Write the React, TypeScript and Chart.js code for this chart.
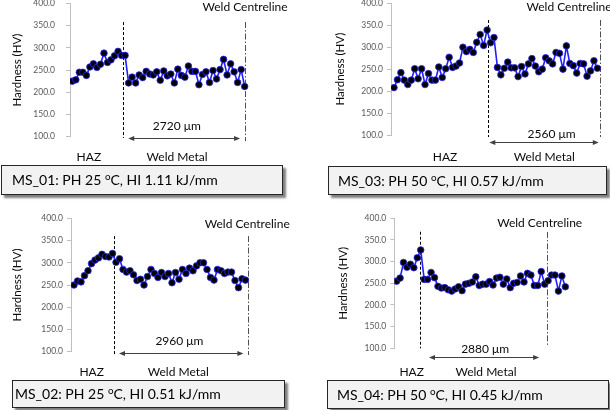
import React, { useEffect, useRef } from "react";
import { Chart, registerables } from "chart.js";
Chart.register(...registerables);

// ---------- data ----------
const Y_TICKS = [100, 150, 200, 250, 300, 350, 400];

const MS_01 = [225, 228, 245, 245, 238, 257, 264, 256, 263, 288, 267, 273, 282, 292, 283, 283, 221, 234, 221, 239, 233, 247, 241, 239, 246, 227, 248, 237, 241, 221, 252, 238, 234, 259, 247, 247, 217, 240, 246, 222, 249, 230, 251, 274, 239, 264, 246, 222, 251, 213];
const MS_03 = [208, 226, 242, 225, 215, 225, 251, 228, 251, 215, 240, 225, 225, 255, 231, 251, 277, 254, 257, 264, 300, 290, 295, 288, 311, 329, 304, 339, 310, 322, 254, 237, 252, 266, 253, 253, 233, 256, 239, 262, 274, 257, 244, 250, 276, 269, 262, 288, 286, 250, 303, 263, 258, 241, 263, 262, 234, 246, 269, 252];
const MS_02 = [250, 259, 257, 271, 282, 298, 306, 311, 319, 314, 313, 321, 301, 309, 285, 279, 282, 273, 260, 263, 250, 269, 285, 276, 267, 278, 269, 276, 255, 278, 263, 285, 276, 288, 282, 293, 300, 300, 285, 267, 261, 285, 282, 276, 279, 279, 260, 244, 264, 261];
const MS_04 = [255, 262, 298, 287, 294, 286, 309, 327, 259, 259, 275, 263, 243, 239, 240, 235, 232, 237, 242, 233, 248, 250, 253, 265, 245, 248, 248, 254, 246, 262, 264, 248, 260, 240, 250, 252, 267, 253, 273, 269, 245, 245, 277, 248, 256, 269, 269, 232, 267, 242];

const SERIES = [MS_01, MS_03, MS_02, MS_04];
const SAMPLE_IDS = ["MS_01", "MS_03", "MS_02", "MS_04"];
const PREHEAT_C = ["25", "50", "25", "50"];
const HEAT_INPUT = ["1.11", "0.57", "0.51", "0.45"];
const WELD_WIDTH = ["2720 \u03bcm", "2560 \u03bcm", "2960 \u03bcm", "2880 \u03bcm"];
const Y_TITLE = "Hardness (HV)";
const ZONE_HAZ = "HAZ";
const ZONE_WELD = "Weld Metal";
const CENTRELINE = "Weld Centreline";

// ---------- layout ----------
const W = 610;
const H = 410;
const OFF = 20;
const AXIS_W = 40;
const FONT = "Lato, 'Open Sans', sans-serif";

const LAYOUT = [
  {
    area: { l: 70, t: 3.4, r: 251.7, b: 136.7 }, xMin: -0.66, xMax: 51, tickPad: 11,
    fusion: { x: 14.5, top: 358, bot: 97 }, centre: { x: 49.1, top: 358, bot: 90 },
    arrow: { x1: 15.9, x2: 47.7, y: 96 }, dimText: { x: 29.7, y: 124 },
    haz: 4.7, weld: 29.8, zoneDy: 20.3, clText: { x: 49.1, y: 390.8 }, titleOff: 53,
    box: { l: 1, t: 165, w: 282, h: 30, pad: 10 },
  },
  {
    area: { l: 391, t: 3.3, r: 604.3, b: 135 }, xMin: -0.87, xMax: 61, tickPad: 4,
    fusion: { x: 27.27, top: 362, bot: 95.4 }, centre: { x: 59.76, top: 362, bot: 95.4 },
    arrow: { x1: 27.65, x2: 59.4, y: 84 }, dimText: { x: 45.7, y: 102.3 },
    haz: 14.8, weld: 43.6, zoneDy: 22, clText: { x: 50.77, y: 391.6 }, titleOff: 51,
    box: { l: 328, t: 166, w: 279, h: 29, pad: 9 },
  },
  {
    area: { l: 71, t: 218.3, r: 252.5, b: 351.7 }, xMin: -0.86, xMax: 51, tickPad: 4,
    fusion: { x: 11.5, top: 360, bot: 92.6 }, centre: { x: 49.6, top: 360, bot: 92.6 },
    arrow: { x1: 12.86, x2: 48.4, y: 97 }, dimText: { x: 30.1, y: 124 },
    haz: 5.05, weld: 29.8, zoneDy: 20.3, clText: { x: 49.5, y: 387.9 }, titleOff: 53.7,
    box: { l: 12, t: 380, w: 273, h: 28, pad: 2 },
  },
  {
    area: { l: 394.3, t: 218.3, r: 572.2, b: 348.3 }, xMin: -0.68, xMax: 51, tickPad: 4,
    fusion: { x: 6.78, top: 369, bot: 100 }, centre: { x: 43.76, top: 368.6, bot: 103 },
    arrow: { x1: 9.4, x2: 41.4, y: 80.6 }, dimText: { x: 25.7, y: 98.4 },
    haz: 4.37, weld: 25.95, zoneDy: 23.7, clText: { x: 41.55, y: 389.8 }, titleOff: 51.3,
    box: { l: 327, t: 380, w: 282, h: 29, pad: 9 },
  },
];

function WeldChart({ idx }: { idx: number }) {
  const ref = useRef<HTMLCanvasElement | null>(null);
  useEffect(() => {
    const L = LAYOUT[idx];
    const values = SERIES[idx];
    const plugin = {
      id: "weldAnnot" + idx,
      beforeDatasetsDraw(chart: any) {
        const { ctx } = chart;
        const px = (v: number) => chart.scales.x.getPixelForValue(v);
        const py = (v: number) => chart.scales.y.getPixelForValue(v);
        ctx.save();
        ctx.lineWidth = 1;
        // fusion boundary (dashed)
        ctx.strokeStyle = "#000";
        ctx.setLineDash([3, 2]);
        const fx = Math.round(px(L.fusion.x)) + 0.5;
        ctx.beginPath();
        ctx.moveTo(fx, py(L.fusion.top));
        ctx.lineTo(fx, py(L.fusion.bot));
        ctx.stroke();
        // weld centreline (dash-dot)
        ctx.strokeStyle = "#505050";
        ctx.setLineDash([6, 2, 1.5, 2]);
        const cx = Math.round(px(L.centre.x)) + 0.5;
        ctx.beginPath();
        ctx.moveTo(cx, py(L.centre.top));
        ctx.lineTo(cx, py(L.centre.bot));
        ctx.stroke();
        // dimension arrow
        ctx.setLineDash([]);
        ctx.strokeStyle = "#404040";
        ctx.fillStyle = "#404040";
        const ay = Math.round(py(L.arrow.y)) + 0.5;
        const ax1 = px(L.arrow.x1);
        const ax2 = px(L.arrow.x2);
        ctx.beginPath();
        ctx.moveTo(ax1 + 3, ay);
        ctx.lineTo(ax2 - 3, ay);
        ctx.stroke();
        const head = (x: number, dir: number) => {
          ctx.beginPath();
          ctx.moveTo(x, ay);
          ctx.lineTo(x + dir * 6, ay - 2.6);
          ctx.lineTo(x + dir * 6, ay + 2.6);
          ctx.closePath();
          ctx.fill();
        };
        head(ax1, 1);
        head(ax2, -1);
        ctx.restore();
      },
      afterDraw(chart: any) {
        const { ctx, chartArea } = chart;
        const px = (v: number) => chart.scales.x.getPixelForValue(v);
        const py = (v: number) => chart.scales.y.getPixelForValue(v);
        ctx.save();
        ctx.fillStyle = "#0a0a0a";
        ctx.textAlign = "center";
        ctx.textBaseline = "middle";
        ctx.font = `12px ${FONT}`;
        ctx.fillText(WELD_WIDTH[idx], px(L.dimText.x), py(L.dimText.y));
        ctx.fillText(ZONE_HAZ, px(L.haz), chartArea.bottom + L.zoneDy);
        ctx.fillText(ZONE_WELD, px(L.weld), chartArea.bottom + L.zoneDy);
        ctx.fillText(CENTRELINE, px(L.clText.x), py(L.clText.y));
        ctx.translate(chartArea.left - L.titleOff, (chartArea.top + chartArea.bottom) / 2);
        ctx.rotate(-Math.PI / 2);
        ctx.font = `11.5px ${FONT}`;
        ctx.fillText(Y_TITLE, 0, 0);
        ctx.restore();
      },
    };
    const chart = new Chart(ref.current as HTMLCanvasElement, {
      type: "line",
      data: {
        datasets: [
          {
            data: values.map((v, i) => ({ x: i, y: v })),
            borderColor: "#1f1fff",
            borderWidth: 1.6,
            pointRadius: 3.3,
            pointBackgroundColor: "#000",
            pointBorderColor: "#2a2aff",
            pointBorderWidth: 0.8,
            tension: 0,
            fill: false,
          },
        ],
      },
      options: {
        animation: false,
        responsive: false,
        devicePixelRatio: 1,
        events: [],
        layout: {
          padding: {
            left: L.area.l - AXIS_W,
            top: L.area.t + OFF,
            right: W - L.area.r,
            bottom: H + OFF * 2 - (L.area.b + OFF),
          },
        },
        plugins: { legend: { display: false }, tooltip: { enabled: false }, title: { display: false } },
        scales: {
          x: { type: "linear", min: L.xMin, max: L.xMax, display: false },
          y: {
            type: "linear",
            min: Y_TICKS[0],
            max: Y_TICKS[Y_TICKS.length - 1],
            afterBuildTicks: (s: any) => {
              s.ticks = Y_TICKS.map((v) => ({ value: v }));
            },
            afterFit: (s: any) => {
              s.width = AXIS_W;
            },
            ticks: {
              callback: (v: any) => Number(v).toFixed(1),
              color: "#595959",
              font: { family: FONT, size: 8.5 },
              padding: L.tickPad,
            },
            grid: { display: true, drawOnChartArea: false, drawTicks: true, tickLength: 4, color: "#c0c0c0" },
            border: { display: true, color: "#c0c0c0", width: 1 },
          },
        },
      } as any,
      plugins: [plugin],
    });
    return () => chart.destroy();
  }, [idx]);
  return (
    <canvas
      ref={ref}
      width={W}
      height={H + 2 * OFF}
      style={{ position: "absolute", left: 0, top: -OFF, width: W, height: H + 2 * OFF }}
    />
  );
}

function Caption({ idx }: { idx: number }) {
  const B = LAYOUT[idx].box;
  return (
    <div
      style={{
        position: "absolute",
        left: B.l,
        top: B.t,
        width: B.w,
        height: B.h,
        boxSizing: "border-box",
        border: "1.5px solid #262626",
        background: "#f2f2f2",
        boxShadow: "3px 3px 2px rgba(0,0,0,0.5)",
        paddingLeft: B.pad,
        display: "flex",
        alignItems: "center",
        fontFamily: FONT,
        fontSize: 14,
        color: "#000",
        whiteSpace: "nowrap",
        lineHeight: 1,
      }}
    >
      <span>
        {SAMPLE_IDS[idx]}: PH {PREHEAT_C[idx]}{" "}
        <span style={{ fontSize: "0.7em", position: "relative", top: "-0.5em" }}>o</span>C, HI {HEAT_INPUT[idx]} kJ/mm
      </span>
    </div>
  );
}

export default function App() {
  return (
    <div style={{ position: "absolute", left: 0, top: 0, width: W, height: H, overflow: "hidden", background: "#fff" }}>
      {[0, 1, 2, 3].map((i) => (
        <WeldChart key={"c" + i} idx={i} />
      ))}
      {[0, 1, 2, 3].map((i) => (
        <Caption key={"b" + i} idx={i} />
      ))}
    </div>
  );
}
